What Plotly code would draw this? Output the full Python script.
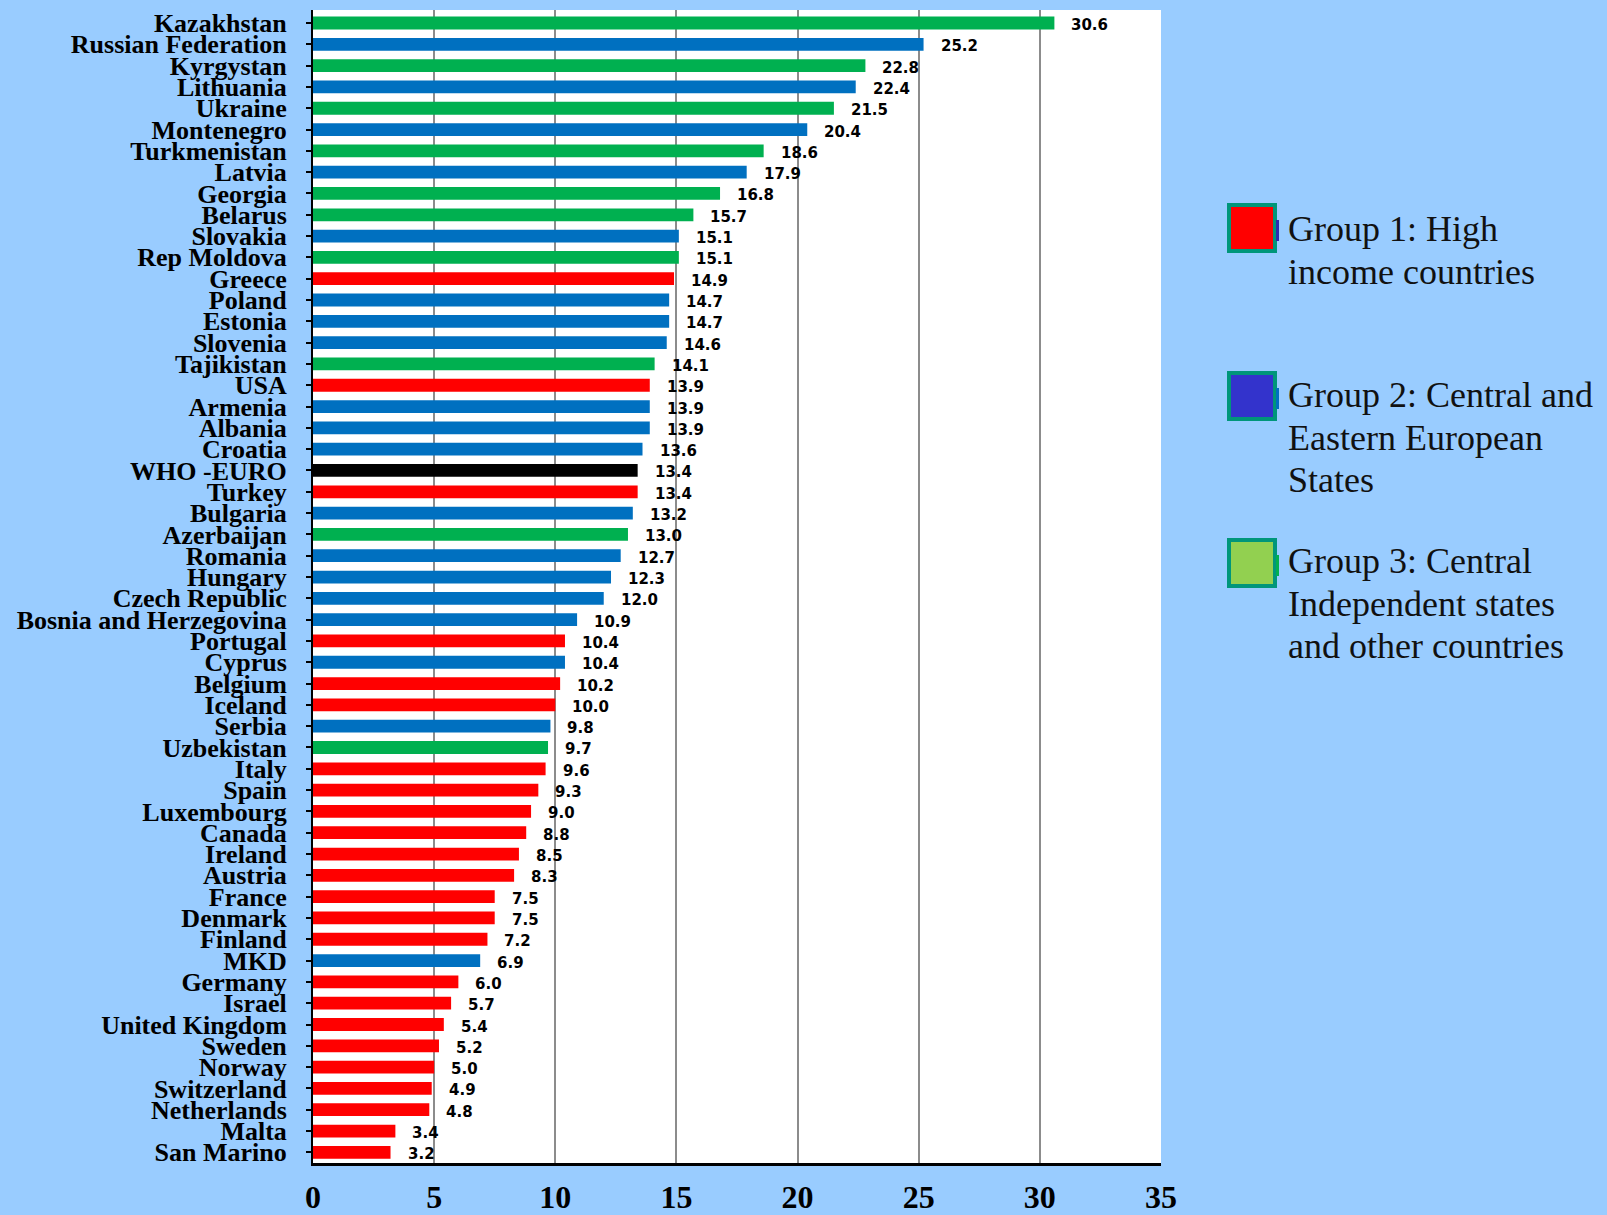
import plotly.graph_objects as go

# Countries ordered top to bottom, with value and group code
countries = [
    "Kazakhstan", "Russian Federation", "Kyrgystan", "Lithuania", "Ukraine",
    "Montenegro", "Turkmenistan", "Latvia", "Georgia", "Belarus", "Slovakia",
    "Rep Moldova", "Greece", "Poland", "Estonia", "Slovenia", "Tajikistan",
    "USA", "Armenia", "Albania", "Croatia", "WHO -EURO", "Turkey", "Bulgaria",
    "Azerbaijan", "Romania", "Hungary", "Czech Republic",
    "Bosnia and Herzegovina", "Portugal", "Cyprus", "Belgium", "Iceland",
    "Serbia", "Uzbekistan", "Italy", "Spain", "Luxembourg", "Canada",
    "Ireland", "Austria", "France", "Denmark", "Finland", "MKD", "Germany",
    "Israel", "United Kingdom", "Sweden", "Norway", "Switzerland",
    "Netherlands", "Malta", "San Marino",
]
values = [
    30.6, 25.2, 22.8, 22.4, 21.5, 20.4, 18.6, 17.9, 16.8, 15.7, 15.1,
    15.1, 14.9, 14.7, 14.7, 14.6, 14.1, 13.9, 13.9, 13.9, 13.6, 13.4, 13.4, 13.2,
    13.0, 12.7, 12.3, 12.0, 10.9, 10.4, 10.4, 10.2, 10.0, 9.8, 9.7, 9.6, 9.3,
    9.0, 8.8, 8.5, 8.3, 7.5, 7.5, 7.2, 6.9, 6.0, 5.7, 5.4, 5.2, 5.0, 4.9,
    4.8, 3.4, 3.2,
]
groups = [
    "G3", "G2", "G3", "G2", "G3", "G2", "G3", "G2", "G3", "G3", "G2",
    "G3", "G1", "G2", "G2", "G2", "G3", "G1", "G2", "G2", "G2", "ALL", "G1", "G2",
    "G3", "G2", "G2", "G2", "G2", "G1", "G2", "G1", "G1", "G2", "G3", "G1", "G1",
    "G1", "G1", "G1", "G1", "G1", "G1", "G1", "G2", "G1", "G1", "G1", "G1", "G1",
    "G1", "G1", "G1", "G1",
]
legend_labels = [
    ["Group 1: High", "income countries"],
    ["Group 2: Central and", "Eastern European", "States"],
    ["Group 3: Central", "Independent states", "and other countries"],
]
x_ticks = [0, 5, 10, 15, 20, 25, 30, 35]

bar_colors = {"G1": "#FF0000", "G2": "#0070C0", "G3": "#00B050", "ALL": "#000000"}
legend_fill = ["#FF0000", "#3333CC", "#92D050"]
legend_tab = ["#2B2BB0", "#0070C0", "#00B050"]

W, H = 1607, 1215
ML, MR, MT, MB = 313, 446, 10, 52
PW, PH = W - ML - MR, H - MT - MB


def px_x(px):
    return (px - ML) / PW


def px_y(py):
    return (H - MB - py) / PH


fig = go.Figure(
    go.Bar(
        x=values,
        y=countries,
        orientation="h",
        width=0.6,
        marker=dict(color=[bar_colors[g] for g in groups], line=dict(width=0)),
        hoverinfo="x+y",
    )
)

# value labels to the right of each bar
for c, v in zip(countries, values):
    fig.add_annotation(
        x=v, y=c, text=f"{v:.1f}", showarrow=False,
        xanchor="left", yanchor="middle", xshift=15, yshift=-2,
        font=dict(family="DejaVu Sans", size=15, color="black", weight="bold"),
    )

# legend boxes and labels
box_tops = [203, 371, 538]
text_first = [229, 395, 561]
line_gap = 42.5
for i, lines in enumerate(legend_labels):
    top = box_tops[i]
    fig.add_shape(
        type="rect", xref="paper", yref="paper",
        x0=px_x(1229), x1=px_x(1275), y0=px_y(top + 48), y1=px_y(top + 2),
        fillcolor=legend_fill[i], line=dict(color="#00967A", width=4),
    )
    fig.add_shape(
        type="rect", xref="paper", yref="paper",
        x0=px_x(1276), x1=px_x(1279), y0=px_y(top + 38), y1=px_y(top + 17),
        fillcolor=legend_tab[i], line=dict(width=0),
    )
    for j, line in enumerate(lines):
        fig.add_annotation(
            xref="paper", yref="paper", x=px_x(1286), y=px_y(text_first[i] + j * line_gap),
            text=line, showarrow=False, xanchor="left", yanchor="middle",
            font=dict(family="Liberation Serif", size=36, color="#111111"),
        )

fig.update_layout(
    width=W, height=H,
    margin=dict(l=ML, r=MR, t=MT, b=MB, pad=0, autoexpand=False),
    paper_bgcolor="#99CCFF",
    plot_bgcolor="#FFFFFF",
    showlegend=False,
    bargap=0.4,
    xaxis=dict(
        range=[0, 35], tickvals=x_ticks, showgrid=True, automargin=False,
        gridcolor="#8C8C8C", gridwidth=1.5, zeroline=False,
        showline=True, linecolor="black", linewidth=3,
        ticks="", ticklabelstandoff=4,
        tickfont=dict(family="Liberation Serif", size=32, color="black", weight="bold"),
    ),
    yaxis=dict(
        categoryorder="array", categoryarray=countries, autorange="reversed",
        tickmode="array", tickvals=countries, ticktext=countries, automargin=False,
        showgrid=False, showline=True, linecolor="black", linewidth=2,
        ticks="outside", ticklen=5, tickwidth=1.5, tickcolor="black",
        ticklabelstandoff=14,
        tickfont=dict(family="Liberation Serif", size=26, color="black", weight="bold"),
    ),
)

fig.write_html("out.html")
